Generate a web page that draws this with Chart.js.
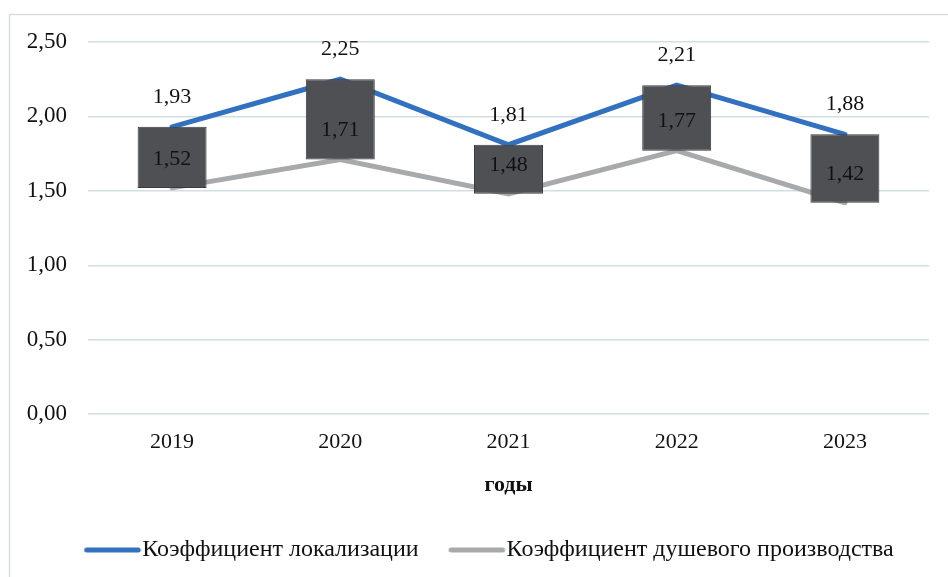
<!DOCTYPE html>
<html>
<head>
<meta charset="utf-8">
<script src="https://cdn.jsdelivr.net/npm/chart.js@4/dist/chart.umd.min.js"></script>
<style>
html,body{margin:0;padding:0;background:#fff;}
#wrap{position:absolute;left:0;top:0;width:948px;height:577px;}
</style>
</head>
<body>
<div id="wrap"><canvas id="c" width="948" height="577"></canvas></div>
<script>
const categories = ['2019', '2020', '2021', '2022', '2023'];
const localization = [1.93, 2.25, 1.81, 2.21, 1.88];
const perCapita = [1.52, 1.71, 1.48, 1.77, 1.42];
const seriesNames = ['Коэффициент локализации', 'Коэффициент душевого производства'];
const axisTitle = 'годы';

const FONT = "'Liberation Serif', 'Times New Roman', serif";
const BLUE = '#3270c0';
const GRAY = '#a7a9ab';
const BOX = '#4e5053';

const fmt = v => v.toFixed(2).replace('.', ',');

// legend swatch: a short thick rounded line, offset so that it sits close to the text
function legendSwatch(color) {
  const c = document.createElement('canvas');
  c.width = 110; c.height = 10;
  const g = c.getContext('2d');
  g.strokeStyle = color;
  g.lineWidth = 5;
  g.lineCap = 'round';
  g.beginPath();
  g.moveTo(34.5, 5);
  g.lineTo(86, 5);
  g.stroke();
  return c;
}

const framePlugin = {
  id: 'frame',
  afterLayout(chart) {
    if (chart.legend) { chart.legend.left = 49; }
  },
  beforeDraw(chart) {
    const ctx = chart.ctx;
    ctx.save();
    ctx.strokeStyle = '#d6dde2';
    ctx.lineWidth = 1.5;
    ctx.beginPath();
    ctx.moveTo(9.5, 577);
    ctx.lineTo(9.5, 14.5);
    ctx.lineTo(948, 14.5);
    ctx.stroke();
    ctx.restore();
  }
};

const labelPlugin = {
  id: 'valueLabels',
  afterDatasetsDraw(chart) {
    const ctx = chart.ctx;
    ctx.save();
    ctx.font = '22px ' + FONT;
    ctx.fillStyle = '#111';
    ctx.textAlign = 'center';
    ctx.textBaseline = 'middle';
    const y = chart.scales.y;
    chart.getDatasetMeta(1).data.forEach((pt, i) => {
      ctx.fillText(fmt(localization[i]), pt.x, y.getPixelForValue(localization[i]) - 30);
    });
    chart.getDatasetMeta(2).data.forEach((pt, i) => {
      ctx.fillText(fmt(perCapita[i]), pt.x, y.getPixelForValue(perCapita[i]) - 29);
    });
    ctx.restore();
  }
};

new Chart(document.getElementById('c'), {
  data: {
    labels: categories,
    datasets: [
      {
        type: 'bar',
        label: 'updown',
        data: categories.map((_, i) => [perCapita[i], localization[i]]),
        backgroundColor: BOX,
        borderColor: '#3a3b3d',
        borderWidth: 1,
        borderSkipped: false,
        barPercentage: 0.41,
        categoryPercentage: 1,
        order: 0
      },
      {
        type: 'line',
        label: seriesNames[0],
        data: localization,
        borderColor: BLUE,
        backgroundColor: BLUE,
        borderWidth: 5,
        borderCapStyle: 'round',
        pointRadius: 0,
        pointStyle: legendSwatch(BLUE),
        tension: 0,
        order: 1
      },
      {
        type: 'line',
        label: seriesNames[1],
        data: perCapita,
        borderColor: GRAY,
        backgroundColor: GRAY,
        borderWidth: 5,
        borderCapStyle: 'round',
        pointRadius: 0,
        pointStyle: legendSwatch(GRAY),
        tension: 0,
        order: 2
      }
    ]
  },
  options: {
    responsive: false,
    animation: false,
    devicePixelRatio: 1,
    layout: { padding: { left: 0, right: 19, top: 42, bottom: 5 } },
    plugins: {
      tooltip: { enabled: false },
      legend: {
        position: 'bottom',
        labels: {
          filter: item => item.datasetIndex !== 0,
          usePointStyle: true,
          pointStyleWidth: 46,
          padding: 30,
          color: '#111',
          font: { family: FONT, size: 24 }
        }
      }
    },
    scales: {
      x: {
        grid: { display: false, drawTicks: false },
        border: { display: false },
        ticks: { padding: 15, color: '#111', font: { family: FONT, size: 22 } },
        title: {
          display: true,
          text: axisTitle,
          color: '#111',
          padding: { top: 2, bottom: 9 },
          font: { family: FONT, size: 22, weight: 'bold' }
        }
      },
      y: {
        min: 0,
        max: 2.5,
        afterFit: s => { s.width = 88; },
        grid: { color: '#d3dee4', lineWidth: 1.5, drawTicks: false },
        border: { display: false },
        ticks: {
          stepSize: 0.5,
          padding: 21,
          color: '#111',
          font: { family: FONT, size: 23 },
          callback: v => fmt(v)
        }
      }
    }
  },
  plugins: [framePlugin, labelPlugin]
});
</script>
</body>
</html>
